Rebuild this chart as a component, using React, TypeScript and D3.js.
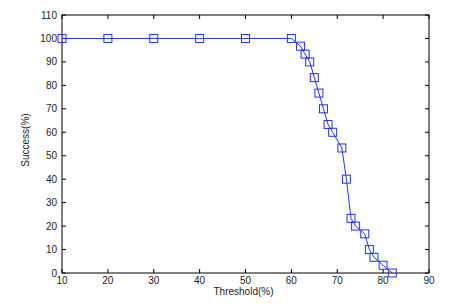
import React, { useRef, useEffect } from "react";
import * as d3 from "d3";

// threshold (%) vs success (%)
const thresholds = [10, 20, 30, 40, 50, 60, 62, 63, 64, 65, 66, 67, 68, 69, 71, 72, 73, 74, 76, 77, 78, 80, 82];
const success = [100, 100, 100, 100, 100, 100, 96.7, 93.3, 90, 83.3, 76.7, 70, 63.3, 60, 53.3, 40, 23.3, 20, 16.7, 10, 6.7, 3.3, 0];
const xTicks = [10, 20, 30, 40, 50, 60, 70, 80, 90];
const yTicks = [0, 10, 20, 30, 40, 50, 60, 70, 80, 90, 100, 110];

const App = () => {
	const ref = useRef<SVGSVGElement>(null);
	const width = 473;
	const height = 305;
	const margin = { top: 15, right: 44, bottom: 32, left: 62 };

	useEffect(() => {
		const svg = d3.select(ref.current);
		svg.selectAll("*").remove();

		const w = width - margin.left - margin.right;
		const h = height - margin.top - margin.bottom;

		const x = d3.scaleLinear().domain([10, 90]).range([0, w]);
		const y = d3.scaleLinear().domain([0, 110]).range([h, 0]);

		const g = svg
			.append("g")
			.attr("transform", `translate(${margin.left},${margin.top})`);

		// box
		g.append("rect")
			.attr("width", w)
			.attr("height", h)
			.attr("fill", "none")
			.attr("stroke", "#000")
			.attr("stroke-width", 1);

		const font = "Liberation Sans, Arial, sans-serif";

		// inward ticks on all four sides
		const tl = 4;
		xTicks.forEach((t) => {
			g.append("line").attr("x1", x(t)).attr("x2", x(t)).attr("y1", h).attr("y2", h - tl).attr("stroke", "#000");
			g.append("line").attr("x1", x(t)).attr("x2", x(t)).attr("y1", 0).attr("y2", tl).attr("stroke", "#000");
			g.append("text")
				.attr("x", x(t))
				.attr("y", h + 11)
				.attr("text-anchor", "middle")
				.attr("font-family", font)
				.attr("font-size", 10)
				.attr("fill", "#222")
				.text(t);
		});
		yTicks.forEach((t) => {
			g.append("line").attr("x1", 0).attr("x2", tl).attr("y1", y(t)).attr("y2", y(t)).attr("stroke", "#000");
			g.append("line").attr("x1", w).attr("x2", w - tl).attr("y1", y(t)).attr("y2", y(t)).attr("stroke", "#000");
			g.append("text")
				.attr("x", -5)
				.attr("y", y(t))
				.attr("dy", "0.35em")
				.attr("text-anchor", "end")
				.attr("font-family", font)
				.attr("font-size", 10)
				.attr("fill", "#222")
				.text(t);
		});

		// axis titles
		g.append("text")
			.attr("x", w / 2 - 2)
			.attr("y", h + 22)
			.attr("text-anchor", "middle")
			.attr("font-family", font)
			.attr("font-size", 10)
			.attr("fill", "#222")
			.text("Threshold(%)");
		g.append("text")
			.attr("transform", `translate(-33,${h / 2 - 4}) rotate(-90)`)
			.attr("text-anchor", "middle")
			.attr("font-family", font)
			.attr("font-size", 10)
			.attr("fill", "#222")
			.text("Success(%)");

		const data = thresholds.map((t, i) => [t, success[i]] as [number, number]);

		const line = d3
			.line<[number, number]>()
			.x((d) => x(d[0]))
			.y((d) => y(d[1]));

		g.append("path")
			.datum(data)
			.attr("d", line)
			.attr("fill", "none")
			.attr("stroke", "#2233ee")
			.attr("stroke-width", 1);

		const s = 8;
		g.selectAll(".mark")
			.data(data)
			.enter()
			.append("rect")
			.attr("class", "mark")
			.attr("x", (d) => x(d[0]) - s / 2)
			.attr("y", (d) => y(d[1]) - s / 2)
			.attr("width", s)
			.attr("height", s)
			.attr("fill", "none")
			.attr("stroke", "#2233ee")
			.attr("stroke-width", 1);
	}, []);

	return <svg ref={ref} width={width} height={height} style={{ display: "block", margin: -8 }} />;
};

export default App;
